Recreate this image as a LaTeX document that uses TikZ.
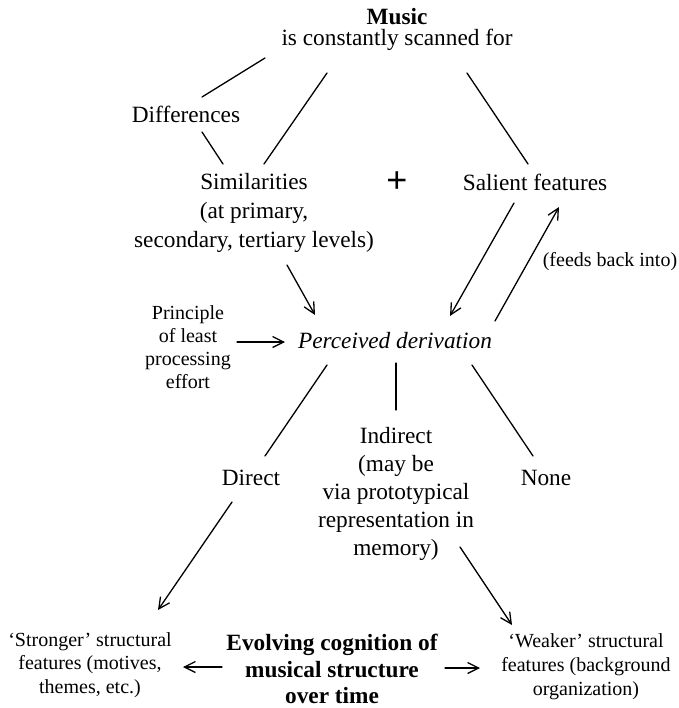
\documentclass[tikz,border=0pt]{standalone}
\usepackage{fontspec}
\setmainfont{Liberation Serif}
\newfontfamily\plusfont{Liberation Sans}
\usetikzlibrary{arrows.meta}
\begin{document}
\begin{tikzpicture}[x=1bp,y=-1bp,
  % multi-line nodes are placed by the baseline of their last line
  txt/.style={inner sep=0pt, align=center, anchor=base},
  main/.style={txt, font=\fontsize{23.3bp}{28bp}\selectfont},
  small/.style={txt, font=\fontsize{20bp}{23.5bp}\selectfont},
  link/.style={line width=1.3bp, line cap=round},
  flow/.style={link, -{Straight Barb[length=11bp,width=11bp,line width=1.3bp]}}]
\useasboundingbox (0,0) rectangle (679,708);

% --- texts ---
\node[main, font=\fontsize{23.3bp}{28bp}\selectfont\bfseries] (music) at (397,24.5) {Music};
\node[main] (scan) at (397,46) {is constantly scanned for};
\node[main] (diff) at (186,123) {Differences};
\node[main, font=\fontsize{23.3bp}{29bp}\selectfont] (sim) at (254,247)
  {Similarities\\(at primary,\\secondary, tertiary levels)};
\node[inner sep=0pt, font=\fontsize{36bp}{36bp}\plusfont] (plus) at (397,182) {+};
\node[main] (sal) at (535,190) {Salient features};
\node[main, font=\fontsize{23.3bp}{28bp}\selectfont\itshape] (perc) at (395,348) {Perceived derivation};
\node[small, font=\fontsize{20bp}{22.7bp}\selectfont] (prin) at (188,388) {Principle\\of least\\processing\\effort};
\node[small] (feed) at (610,266) {(feeds back into)};
\node[main] (direct) at (251,485) {Direct};
\node[main] (none) at (546,485) {None};
\node[main] (ind) at (396,555)
  {Indirect\\(may be\\via prototypical\\representation in\\memory)};
\node[small] (strong) at (90,693) {‘Stronger’ structural\\features (motives,\\themes, etc.)};
\node[small, font=\fontsize{20bp}{24bp}\selectfont] (weak) at (586,695) {‘Weaker’ structural\\features (background\\organization)};
\node[main, font=\fontsize{23.3bp}{26.5bp}\selectfont\bfseries] (evol) at (332,703.5)
  {Evolving cognition of\\musical structure\\over time};

% --- connector ends ---
\coordinate (scan-dl) at (265,58);
\coordinate (scan-sl) at (327,73);
\coordinate (scan-sr) at (467,73);
\coordinate (diff-up) at (202,97);
\coordinate (diff-dn) at (202,132);
\coordinate (sim-ul) at (223,164);
\coordinate (sim-ur) at (264,164);
\coordinate (sim-dn) at (287,265);
\coordinate (sal-up) at (528,164);
\coordinate (sal-dl) at (514,203);
\coordinate (sal-dr) at (559,207);
\coordinate (perc-ul) at (315,315);
\coordinate (perc-ur) at (450,316);
\coordinate (perc-rr) at (495,321);
\coordinate (perc-l) at (285,342);
\coordinate (prin-r) at (237,342);
\coordinate (perc-dl) at (327,365);
\coordinate (perc-dm) at (396,363);
\coordinate (perc-dr) at (472,365);
\coordinate (direct-up) at (265,456);
\coordinate (ind-up) at (396,410);
\coordinate (none-up) at (533,456);
\coordinate (direct-dn) at (232,502);
\coordinate (strong-up) at (158,610);
\coordinate (ind-dn) at (460,547);
\coordinate (weak-up) at (512,625);
\coordinate (evol-l) at (222,667);
\coordinate (strong-r) at (183,667);
\coordinate (evol-r) at (445,668);
\coordinate (weak-l) at (480,668);

% --- plain links ---
\draw[link] (scan-dl) -- (diff-up);
\draw[link] (diff-dn) -- (sim-ul);
\draw[link] (scan-sl) -- (sim-ur);
\draw[link] (scan-sr) -- (sal-up);
\draw[link] (perc-dl) -- (direct-up);
\draw[link] (perc-dm) -- (ind-up);
\draw[link] (perc-dr) -- (none-up);

% --- arrows ---
\draw[flow] (sim-dn) -- (perc-ul);
\draw[flow] (sal-dl) -- (perc-ur);
\draw[flow] (perc-rr) -- (sal-dr);
\draw[flow] (prin-r) -- (perc-l);
\draw[flow] (direct-dn) -- (strong-up);
\draw[flow] (ind-dn) -- (weak-up);
\draw[flow] (evol-l) -- (strong-r);
\draw[flow] (evol-r) -- (weak-l);
\end{tikzpicture}
\end{document}
